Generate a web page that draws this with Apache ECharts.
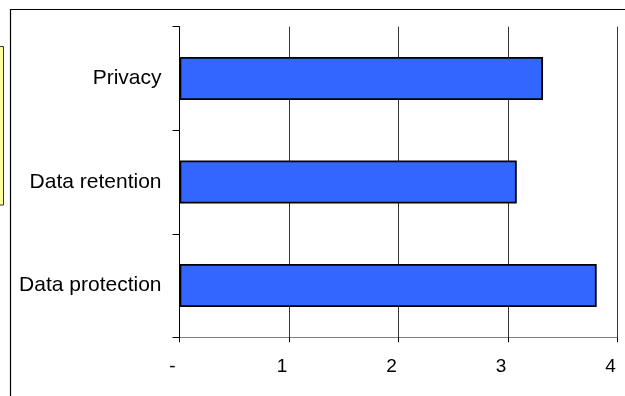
<!DOCTYPE html>
<html>
<head>
<meta charset="utf-8">
<script src="https://cdn.jsdelivr.net/npm/echarts@6/dist/echarts.min.js"></script>
<style>html,body{margin:0;padding:0;background:#fff;}#c{width:625px;height:396px;}</style>
</head>
<body>
<div id="c"></div>
<script>
var categories = ["Data protection", "Data retention", "Privacy"];
var scores = [3.81, 3.08, 3.32];
var xTicks = ["-", "1", "2", "3", "4"];

var chart = echarts.init(document.getElementById('c'), null, {renderer: 'canvas'});
chart.setOption({
  animation: false,
  backgroundColor: '#ffffff',
  graphic: [
    {type: 'rect', shape: {x: 10.5, y: 9.5, width: 700, height: 500}, style: {fill: 'none', stroke: '#000', lineWidth: 1.2}, z: 0},
    {type: 'rect', shape: {x: -10, y: 46.5, width: 13.5, height: 158.5}, style: {fill: '#ffff99', stroke: '#333', lineWidth: 1}, z: 0}
  ],
  grid: {left: 179.5, right: 7.5, top: 26.7, bottom: 58.7, containLabel: false},
  xAxis: {
    type: 'value', min: 0, max: 4, interval: 1,
    axisLine: {show: true, lineStyle: {color: '#808080', width: 1}},
    axisTick: {show: true, length: 5, lineStyle: {color: '#000'}},
    splitLine: {show: true, lineStyle: {color: '#333', width: 1}},
    axisLabel: {
      margin: 19.5, color: '#000', fontFamily: 'Liberation Sans, Arial, sans-serif', fontSize: 19,
      padding: [0, 14, 0, 0],
      formatter: function (v) { return xTicks[Math.round(v)]; }
    }
  },
  yAxis: {
    type: 'category', data: categories,
    axisLine: {show: true, lineStyle: {color: '#000', width: 1}},
    axisTick: {show: true, length: 7, lineStyle: {color: '#000'}},
    splitLine: {show: false},
    axisLabel: {margin: 18, color: '#000', fontFamily: 'Liberation Sans, Arial, sans-serif', fontSize: 21}
  },
  series: [{
    type: 'bar', data: scores, barWidth: 43,
    itemStyle: {color: '#3366ff', borderColor: '#000', borderWidth: 1.8}
  }]
});
</script>
</body>
</html>
